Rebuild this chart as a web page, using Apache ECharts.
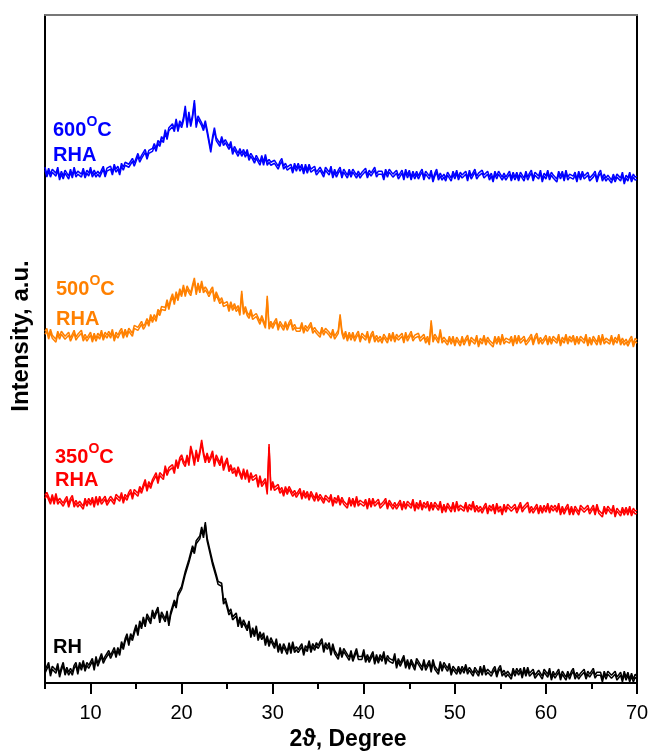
<!DOCTYPE html>
<html>
<head>
<meta charset="utf-8">
<script src="https://cdn.jsdelivr.net/npm/echarts@6/dist/echarts.min.js"></script>
<style>
  html, body { margin: 0; padding: 0; background: #fff; }
  #chart { width: 654px; height: 756px; }
</style>
</head>
<body>
<div id="chart"></div>
<script>
// XRD scans: 2-theta from 5 to 70 degrees, one reading every 0.2 degree.
// Intensities are arbitrary units and already include each pattern's vertical offset.
const START_DEG = 5;
const STEP_DEG = 0.2;

const xTickLabels = ['5', '10', '15', '20', '25', '30', '35', '40', '45', '50', '55', '60', '65', '70'];

// Rice husk ash, calcined at 600 °C (five readings per degree)
const rha600 = [
  522, 515, 521, 515, 520,  520, 516, 522, 512, 518,  513, 519, 520, 513, 520,  514, 522, 515, 518, 516,
  515, 521, 514, 519, 516,  522, 515, 519, 515, 518,  515, 519, 523, 515, 521,  519, 523, 517, 525, 520,
  523, 517, 526, 522, 527,  529, 525, 524, 531, 526,  527, 536, 530, 534, 533,  540, 533, 539, 537, 541,
  546, 541, 549, 546, 553,  550, 560, 553, 562, 560,  566, 561, 571, 561, 569,  565, 572, 584, 565, 578,
  566, 575, 590, 565, 574,  574, 567, 562, 569, 560,  561, 540, 553, 562, 552,  554, 546, 553, 547, 550,
  548, 543, 548, 538, 543,  544, 536, 541, 536, 540,  535, 540, 532, 536, 533,  529, 534, 535, 527, 534,
  527, 535, 527, 530, 527,  525, 529, 531, 523, 528,  531, 523, 526, 522, 524,  525, 519, 526, 521, 526,
  521, 525, 518, 525, 519,  525, 520, 518, 523, 517,  516, 522, 522, 515, 522,  521, 517, 523, 514, 520,
  515, 519, 522, 514, 520,  521, 514, 520, 515, 520,  522, 514, 518, 514, 517,  515, 521, 514, 519, 516,
  514, 522, 515, 518, 516,  518, 512, 520, 515, 520,  520, 515, 513, 519, 513,  515, 519, 512, 520, 514,
  519, 512, 518, 513, 518,  513, 517, 520, 512, 518,  517, 513, 519, 510, 516,  520, 512, 516, 512, 515,
  511, 517, 518, 511, 518,  513, 519, 512, 517, 514,  514, 518, 511, 519, 513,  512, 520, 513, 516, 514,
  519, 514, 512, 518, 512,  516, 510, 518, 513, 518,  520, 512, 516, 512, 515,  518, 511, 517, 512, 517,
  511, 517, 518, 511, 518,  512, 516, 519, 511, 517,  517, 513, 519, 510, 516,  513, 519, 512, 517, 514,
  516, 510, 518, 513, 518,  511, 519, 512, 515, 513,  513, 517, 510, 518, 512,  518, 513, 511, 517, 511,
  511, 515, 518, 510, 516,  519, 511, 515, 511, 514,  516, 509, 515, 510, 515,  515, 511, 517, 508, 514,
  511, 517, 510, 515, 512,  513
];

// Rice husk ash, calcined at 500 °C
const rha500 = [
  356, 359, 351, 358, 352,  354, 348, 356, 351, 356,  356, 351, 349, 355, 349,  349, 357, 350, 353, 351,
  357, 349, 353, 349, 352,  355, 348, 354, 349, 354,  351, 357, 350, 355, 352,  356, 352, 358, 349, 355,
  352, 356, 359, 352, 358,  353, 359, 361, 354, 362,  364, 360, 359, 366, 361,  364, 369, 364, 373, 368,
  373, 369, 378, 375, 381,  382, 380, 388, 381, 389,  394, 386, 396, 390, 399,  394, 403, 394, 402, 398,
  395, 403, 410, 396, 405,  398, 407, 398, 401, 398,  394, 398, 401, 389, 396,  397, 387, 390, 384, 386,
  386, 379, 386, 380, 384,  379, 382, 375, 397, 376,  381, 375, 372, 378, 371,  369, 374, 374, 366, 372,
  370, 362, 392, 361, 366,  362, 366, 369, 360, 366,  367, 360, 366, 360, 365,  368, 360, 363, 359, 361,
  359, 365, 357, 362, 359,  357, 365, 357, 360, 357,  359, 353, 360, 355, 359,  360, 355, 352, 358, 351,
  353, 357, 373, 357, 351,  356, 349, 355, 350, 355,  349, 353, 356, 348, 354,  354, 350, 356, 347, 353,
  356, 348, 352, 348, 351,  347, 353, 354, 347, 354,  349, 355, 348, 353, 350,  350, 354, 347, 355, 349,
  348, 356, 349, 352, 350,  354, 349, 347, 353, 347,  351, 345, 367, 348, 353,  355, 347, 358, 347, 350,
  352, 345, 351, 346, 351,  344, 350, 351, 344, 351,  345, 349, 352, 344, 350,  350, 346, 352, 343, 349,
  346, 352, 345, 350, 347,  349, 343, 351, 346, 351,  345, 353, 346, 349, 347,  347, 351, 344, 352, 346,
  352, 347, 345, 351, 345,  346, 350, 353, 345, 351,  354, 346, 350, 346, 349,  352, 345, 351, 346, 351,
  351, 347, 353, 344, 350,  347, 353, 346, 351, 348,  352, 345, 351, 346, 351,  351, 347, 353, 344, 350,
  345, 351, 352, 345, 352,  345, 353, 346, 349, 347,  346, 352, 345, 350, 347,  353, 345, 349, 345, 348,
  344, 348, 351, 343, 349,  347
];

// Rice husk ash, calcined at 350 °C
const rha350 = [
  190, 193, 192, 184, 191,  184, 192, 184, 187, 185,  182, 186, 189, 181, 187,  190, 181, 185, 181, 184,
  185, 179, 187, 182, 187,  183, 188, 181, 189, 183,  189, 184, 183, 189, 183,  183, 189, 190, 184, 191,
  190, 187, 193, 185, 191,  188, 193, 196, 189, 196,  198, 192, 199, 195, 201,  206, 197, 204, 200, 206,
  205, 213, 205, 213, 211,  209, 220, 213, 218, 218,  221, 215, 226, 220, 228,  231, 225, 222, 231, 223,
  240, 233, 223, 236, 227,  235, 246, 234, 226, 233,  226, 230, 235, 222, 231,  230, 223, 230, 218, 224,
  228, 217, 221, 215, 218,  212, 219, 219, 209, 217,  209, 216, 206, 213, 208,  207, 211, 201, 210, 202,
  200, 207, 194, 242, 198,  204, 198, 196, 201, 195,  198, 192, 199, 194, 199,  200, 192, 195, 191, 194,
  197, 189, 195, 190, 194,  188, 194, 194, 187, 193,  187, 191, 193, 185, 190,  190, 186, 191, 182, 188,
  185, 190, 183, 188, 184,  186, 180, 188, 182, 187,  181, 189, 182, 185, 183,  182, 186, 179, 187, 181,
  187, 182, 180, 186, 180,  180, 184, 187, 179, 185,  187, 179, 183, 179, 182,  185, 178, 184, 179, 184,
  184, 180, 186, 177, 183,  179, 185, 178, 183, 180,  184, 177, 183, 178, 183,  182, 178, 184, 175, 181,
  176, 182, 183, 176, 183,  176, 184, 177, 180, 178,  177, 183, 176, 181, 178,  184, 176, 180, 176, 179,
  175, 179, 182, 174, 180,  177, 181, 174, 182, 176,  179, 173, 181, 176, 181,  182, 177, 175, 181, 175,
  175, 183, 176, 179, 177,  183, 175, 179, 175, 178,  181, 174, 180, 175, 180,  176, 182, 175, 180, 177,
  180, 176, 182, 173, 179,  174, 178, 181, 173, 179,  173, 179, 180, 173, 180,  181, 176, 174, 180, 174,
  176, 180, 173, 181, 175,  177, 171, 179, 174, 179,  178, 174, 180, 171, 177,  179, 172, 178, 173, 178,
  173, 179, 172, 177, 174,  175
];

// Raw rice husk
const rh = [
   13,  17,  21,  10,  17,   17,  13,  20,   9,  16,   21,  11,  16,  11,  15,   11,  18,  21,  12,  21,
   16,  23,  15,  21,  18,   19,  25,  16,  27,  20,   19,  30,  23,  27,  26,   33,  28,  27,  36,  29,
   36,  31,  42,  37,  45,   50,  41,  50,  46,  53,   59,  51,  63,  58,  67,   60,  70,  72,  63,  74,
   68,  73,  77,  64,  72,   72,  65,  73,  61,  72,   70,  84,  79,  91,  92,   98,  96, 113, 112, 125,
  123, 139, 134, 144, 145,  149, 158, 150, 163, 147,  146, 131, 123, 124, 110,  103, 103, 101,  83,  86,
   85,  72,  75,  67,  69,   71,  60,  67,  59,  64,   63,  56,  63,  49,  56,   50,  58,  46,  52,  47,
   51,  41,  48,  40,  46,   45,  38,  45,  34,  40,   33,  40,  42,  32,  41,   33,  42,  34,  37,  34,
   33,  40,  31,  38,  35,   43,  34,  40,  36,  41,   38,  42,  45,  34,  41,   37,  41,  31,  40,  33,
   35,  27,  36,  29,  35,   35,  29,  26,  33,  25,   25,  35,  27,  29,  27,   34,  24,  29,  24,  28,
   32,  22,  29,  23,  29,   25,  32,  22,  28,  25,   27,  23,  30,  18,  25,   20,  24,  28,  18,  24,
   17,  24,  25,  16,  25,   25,  19,  16,  24,  16,   18,  23,  14,  24,  17,   19,  12,  22,  15,  21,
   19,  15,  20,  11,  17,   19,  12,  17,  12,  17,   13,  19,  12,  16,  13,   10,  16,  17,  10,  17,
   11,  18,  11,  14,  12,   10,  14,  17,   9,  15,   18,  10,  13,   9,  12,   13,   7,  15,  10,  15,
   11,  15,   8,  16,  10,   16,  10,   8,  14,   8,    7,  13,  14,   7,  14,   13,   9,  15,   6,  12,
    8,  11,  14,   6,  12,   13,   6,  12,   7,  12,   15,   7,  11,   7,  10,    8,  14,   7,  12,   9,
    7,  15,   8,  11,   9,   11,   4,  12,   7,  12,   13,   8,   6,  12,   6,    8,  11,   4,  12,   6,
   11,   4,  10,   4,   9,    7
];

const FONT = 'Arial, "Liberation Sans", Helvetica, sans-serif';

function toPairs(values) {
  return values.map((v, i) => [START_DEG + i * STEP_DEG, v]);
}

// Dense scan trace: thin stroke plus an unblurred vertical shadow so the
// noisy signal reads as a band, the way a high-resolution scan prints.
function trace(name, values, color) {
  return {
    name: name,
    type: 'line',
    xAxisIndex: 0,
    yAxisIndex: 0,
    data: toPairs(values),
    showSymbol: false,
    symbol: 'none',
    sampling: null,
    silent: true,
    lineStyle: {
      color: color, width: 1.5, join: 'bevel',
      shadowColor: color, shadowBlur: 0, shadowOffsetX: 0, shadowOffsetY: 3
    },
    z: 3
  };
}

// Sample tag: temperature, superscript "O", trailing "C" on one line, "RHA" below.
function tempTag(temp, color, x, y, y2) {
  const big = 'bold 20px ' + FONT;
  const small = 'bold 14px ' + FONT;
  const digitsW = 33.4;
  const oW = 10.9;
  return [
    { type: 'text', x: x, y: y, style: { text: temp, font: big, fill: color, textVerticalAlign: 'middle' } },
    { type: 'text', x: x + digitsW, y: y - 8, style: { text: 'O', font: small, fill: color, textVerticalAlign: 'middle' } },
    { type: 'text', x: x + digitsW + oW, y: y, style: { text: 'C', font: big, fill: color, textVerticalAlign: 'middle' } },
    { type: 'text', x: x, y: y2, style: { text: 'RHA', font: big, fill: color, textVerticalAlign: 'middle' } }
  ];
}

const chart = echarts.init(document.getElementById('chart'), null, { renderer: 'canvas' });

const option = {
  animation: false,
  backgroundColor: '#fff',
  grid: { left: 45, right: 17, top: 15, bottom: 65, containLabel: false },
  xAxis: [
    {
      // data axis with the short ticks every 5 degrees
      type: 'value', min: 5, max: 70, interval: 5, position: 'bottom',
      axisLine: { show: true, onZero: false, lineStyle: { color: '#000', width: 2 } },
      axisTick: { show: true, length: 6, lineStyle: { color: '#000', width: 2 } },
      axisLabel: { show: false },
      splitLine: { show: false }
    },
    {
      // labelled long ticks every 10 degrees
      type: 'category', data: xTickLabels, boundaryGap: false, position: 'bottom',
      axisLine: { show: false },
      axisTick: {
        show: true, length: 11,
        interval: (i, v) => Number(v) % 10 === 0,
        lineStyle: { color: '#000', width: 2 }
      },
      axisLabel: {
        show: true, margin: 20,
        interval: (i, v) => Number(v) % 10 === 0,
        color: '#000', fontSize: 20, fontFamily: FONT
      },
      splitLine: { show: false },
      name: '2\u03D1, Degree',
      nameLocation: 'middle',
      nameGap: 41,
      nameTextStyle: { color: '#000', fontSize: 23, fontWeight: 'bold', fontFamily: FONT, padding: [0, 0, 0, 14] }
    },
    {
      // top frame line
      type: 'value', min: 5, max: 70, position: 'top',
      axisLine: { show: true, onZero: false, lineStyle: { color: '#777', width: 2 } },
      axisTick: { show: false }, axisLabel: { show: false }, splitLine: { show: false }
    }
  ],
  yAxis: [
    {
      type: 'value', min: 0, max: 676, position: 'left',
      axisLine: { show: true, onZero: false, lineStyle: { color: '#000', width: 2 } },
      axisTick: { show: false }, axisLabel: { show: false }, splitLine: { show: false }
    },
    {
      type: 'value', min: 0, max: 676, position: 'right',
      axisLine: { show: true, onZero: false, lineStyle: { color: '#000', width: 2 } },
      axisTick: { show: false }, axisLabel: { show: false }, splitLine: { show: false }
    }
  ],
  series: [
    trace('600 °C RHA', rha600, '#0000ff'),
    trace('500 °C RHA', rha500, '#ff8000'),
    trace('350 °C RHA', rha350, '#ff0000'),
    trace('RH', rh, '#000000')
  ],
  graphic: [
    {
      type: 'text', x: 21, y: 336, rotation: Math.PI / 2,
      style: { text: 'Intensity, a.u.', font: 'bold 24px ' + FONT, fill: '#000', textAlign: 'center', textVerticalAlign: 'middle' }
    },
    ...tempTag('600', '#0000ff', 53, 130, 155.5),
    ...tempTag('500', '#ff8000', 56, 289, 319),
    ...tempTag('350', '#ff0000', 55, 457.5, 480),
    { type: 'text', x: 53, y: 647, style: { text: 'RH', font: 'bold 20px ' + FONT, fill: '#000', textVerticalAlign: 'middle' } }
  ]
};

chart.setOption(option);
</script>
</body>
</html>
